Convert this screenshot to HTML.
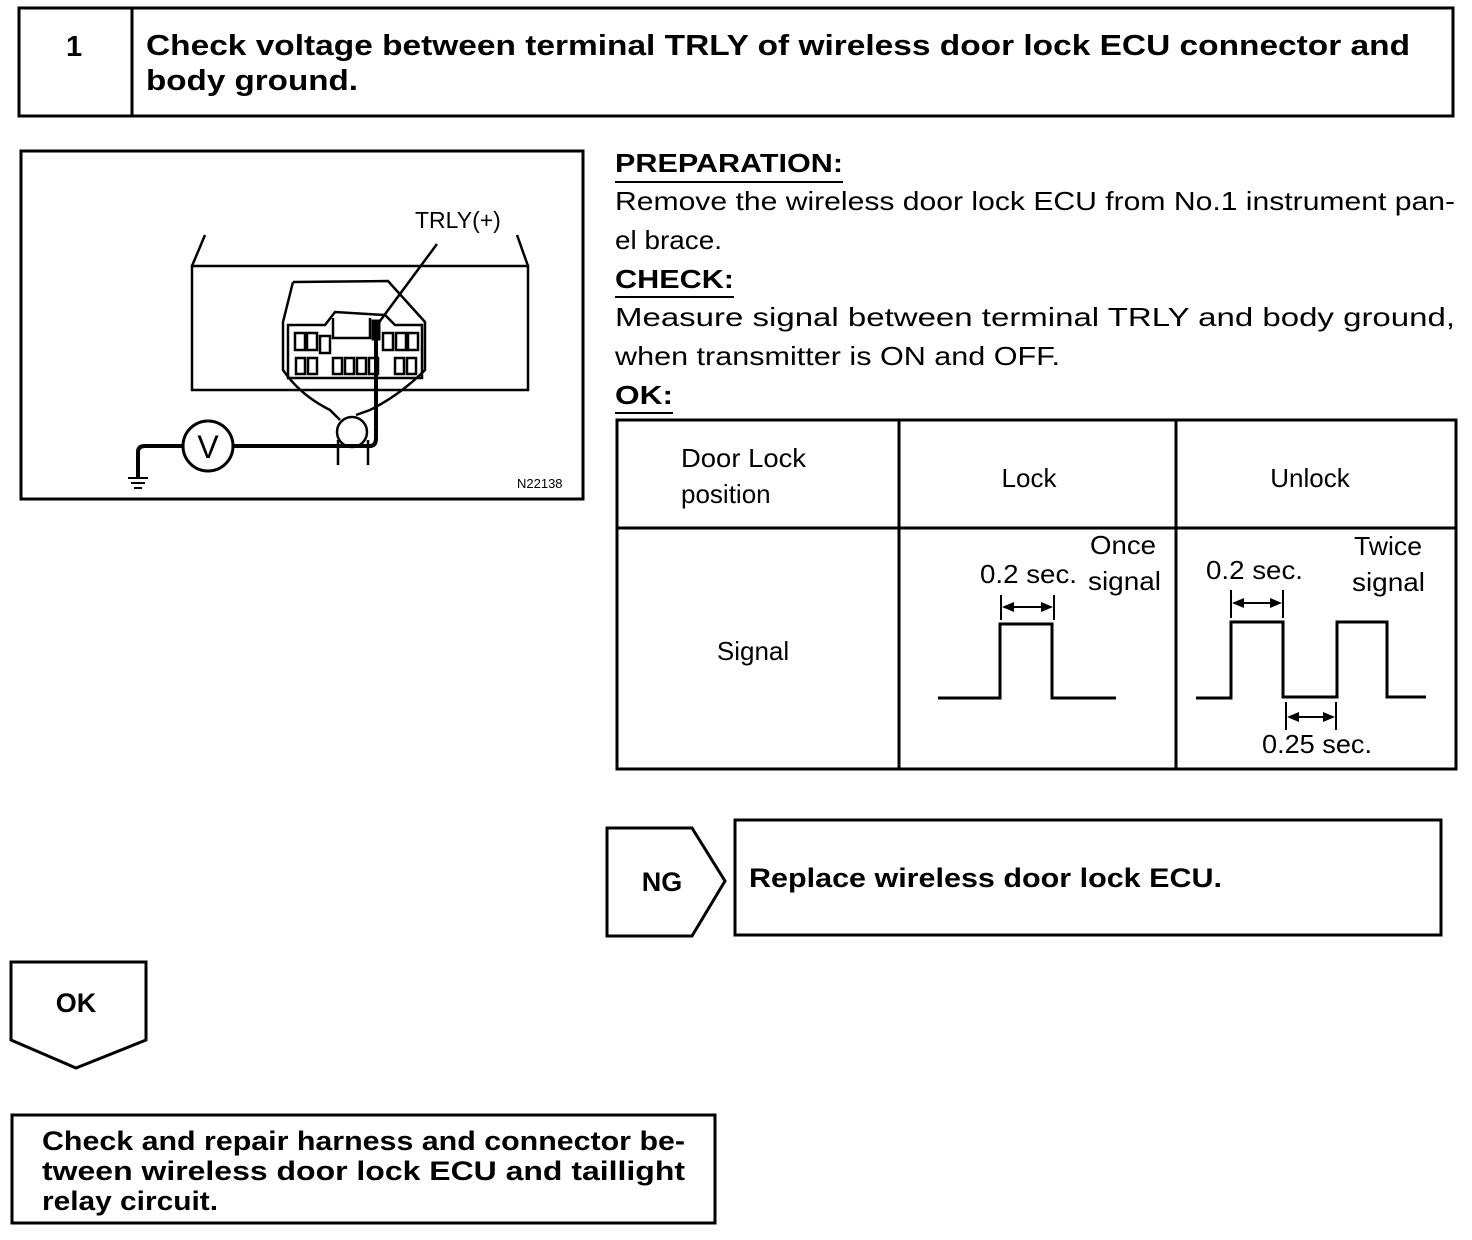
<!DOCTYPE html>
<html><head><meta charset="utf-8"><style>html,body{margin:0;padding:0;background:#fff}svg{display:block}</style></head>
<body>
<svg width="1472" height="1240" viewBox="0 0 1472 1240" xmlns="http://www.w3.org/2000/svg" font-family="Liberation Sans, sans-serif" fill="none" stroke="#000">
<rect x="19" y="8" width="1434" height="108" stroke-width="3"/>
<line x1="132" y1="8" x2="132" y2="116" stroke-width="3"/>
<g fill="#000" stroke="none" font-weight="bold" font-size="29">
<text x="66" y="56">1</text>
<text x="146" y="55" textLength="1264" lengthAdjust="spacingAndGlyphs">Check voltage between terminal TRLY of wireless door lock ECU connector and</text>
<text x="146" y="90" textLength="212" lengthAdjust="spacingAndGlyphs">body ground.</text>
</g>
<rect x="21" y="151" width="562" height="348" stroke-width="3"/>
<g stroke-width="2.5">
<rect x="192" y="266" width="336" height="124"/>
<line x1="205" y1="235" x2="192" y2="266"/>
<line x1="517" y1="235" x2="528" y2="266"/>
<path d="M293 282 L388 281 L425 322 L425 370 Q400 395 370 410 L356 415 M293 282 L283 322 L283 370 Q300 395 330 410 L340 420" />
<path d="M288 325 L288 378 L422 378 L422 325 L395 325 L385 315 L335 312 L325 325 Z"/>
<rect x="295" y="333" width="10" height="17"/><rect x="307" y="333" width="10" height="17"/><rect x="320" y="336" width="10" height="17"/>
<rect x="383" y="333" width="10" height="17"/><rect x="396" y="333" width="10" height="17"/><rect x="408" y="333" width="10" height="17"/>
<rect x="296" y="358" width="9" height="16"/><rect x="308" y="358" width="9" height="16"/>
<rect x="333" y="358" width="9" height="16"/><rect x="345" y="358" width="9" height="16"/><rect x="357" y="358" width="9" height="16"/><rect x="369" y="358" width="9" height="16"/>
<rect x="395" y="358" width="9" height="16"/><rect x="407" y="358" width="9" height="16"/>
<path d="M333 318 L333 338 L370 338 L370 318" />
<circle cx="352" cy="432" r="15"/>
<line x1="338" y1="440" x2="338" y2="465"/><line x1="368" y1="440" x2="368" y2="465"/>
<line x1="437" y1="244" x2="377" y2="325"/>
</g>
<path d="M138 478 L138 452 Q138 446 145 446 L183 446 M233 446 L370 446 Q376 446 376 438 L376 325" stroke-width="4"/>
<rect x="372" y="320" width="8" height="20" fill="#000"/>
<circle cx="208" cy="446" r="25" stroke-width="3"/>
<g fill="#000" stroke="none">
<text x="208" y="458" font-size="32" text-anchor="middle">V</text>
<text x="415" y="228" font-size="23">TRLY(+)</text>
<text x="517" y="488" font-size="13">N22138</text>
</g>
<g stroke-width="2"><line x1="128" y1="478" x2="148" y2="478"/><line x1="131" y1="483" x2="145" y2="483"/><line x1="134" y1="488" x2="142" y2="488"/></g>
<g fill="#000" stroke="none" font-size="26">
<text x="615" y="172" font-weight="bold" textLength="228" lengthAdjust="spacingAndGlyphs">PREPARATION:</text>
<text x="615" y="210" textLength="840" lengthAdjust="spacingAndGlyphs">Remove the wireless door lock ECU from No.1 instrument pan-</text>
<text x="615" y="249" textLength="107" lengthAdjust="spacingAndGlyphs">el brace.</text>
<text x="615" y="288" font-weight="bold" textLength="119" lengthAdjust="spacingAndGlyphs">CHECK:</text>
<text x="615" y="326" textLength="840" lengthAdjust="spacingAndGlyphs">Measure signal between terminal TRLY and body ground,</text>
<text x="615" y="365" textLength="445" lengthAdjust="spacingAndGlyphs">when transmitter is ON and OFF.</text>
<text x="615" y="404" font-weight="bold" textLength="58" lengthAdjust="spacingAndGlyphs">OK:</text>
</g>
<g stroke-width="2"><line x1="615" y1="182" x2="843" y2="182"/><line x1="615" y1="297" x2="734" y2="297"/><line x1="615" y1="413" x2="673" y2="413"/></g>
<rect x="617" y="420" width="839" height="349" stroke-width="3"/>
<line x1="617" y1="528" x2="1456" y2="528" stroke-width="3"/>
<line x1="899" y1="420" x2="899" y2="769" stroke-width="3"/>
<line x1="1176" y1="420" x2="1176" y2="769" stroke-width="3"/>
<g fill="#000" stroke="none" font-size="26">
<text x="681" y="467" textLength="125" lengthAdjust="spacingAndGlyphs">Door Lock</text>
<text x="681" y="503">position</text>
<text x="1029" y="487" text-anchor="middle">Lock</text>
<text x="1310" y="487" text-anchor="middle">Unlock</text>
<text x="753" y="660" text-anchor="middle">Signal</text>
<text x="980" y="583" textLength="97" lengthAdjust="spacingAndGlyphs">0.2 sec.</text>
<text x="1090" y="554" textLength="66" lengthAdjust="spacingAndGlyphs">Once</text>
<text x="1088" y="590" textLength="73" lengthAdjust="spacingAndGlyphs">signal</text>
<text x="1206" y="579" textLength="97" lengthAdjust="spacingAndGlyphs">0.2 sec.</text>
<text x="1354" y="555" textLength="68" lengthAdjust="spacingAndGlyphs">Twice</text>
<text x="1352" y="591" textLength="73" lengthAdjust="spacingAndGlyphs">signal</text>
<text x="1262" y="753" textLength="110" lengthAdjust="spacingAndGlyphs">0.25 sec.</text>
</g>
<g stroke-width="3">
<path d="M938 698 L1000 698 L1000 624 L1052 624 L1052 698 L1116 698"/>
<path d="M1196 698 L1231 698 L1231 622 L1283 622 L1283 697 L1337 697 L1337 622 L1387 622 L1387 697 L1426 697"/>
</g>
<g stroke-width="2">
<line x1="1001" y1="595" x2="1001" y2="620"/><line x1="1054" y1="595" x2="1054" y2="620"/><line x1="1004" y1="607" x2="1051" y2="607"/>
<line x1="1231" y1="590" x2="1231" y2="618"/><line x1="1283" y1="590" x2="1283" y2="618"/><line x1="1234" y1="603" x2="1280" y2="603"/>
<line x1="1286" y1="702" x2="1286" y2="730"/><line x1="1336" y1="702" x2="1336" y2="730"/><line x1="1289" y1="717" x2="1333" y2="717"/>
</g>
<g fill="#000" stroke="none">
<path d="M1002 607 l12 -5 v10z"/><path d="M1053 607 l-12 -5 v10z"/>
<path d="M1232 603 l12 -5 v10z"/><path d="M1282 603 l-12 -5 v10z"/>
<path d="M1287 717 l12 -5 v10z"/><path d="M1335 717 l-12 -5 v10z"/>
</g>
<path d="M607 828 L692 828 L725 881 L692 936 L607 936 Z" stroke-width="3"/>
<rect x="735" y="820" width="706" height="115" stroke-width="3"/>
<g fill="#000" stroke="none" font-weight="bold" font-size="27">
<text x="662" y="891" text-anchor="middle">NG</text>
<text x="749" y="887" textLength="473" lengthAdjust="spacingAndGlyphs">Replace wireless door lock ECU.</text>
<text x="76" y="1012" text-anchor="middle">OK</text>
</g>
<path d="M11 962 L146 962 L146 1040 L76 1068 L11 1040 Z" stroke-width="3"/>
<rect x="12" y="1115" width="703" height="108" stroke-width="3"/>
<g fill="#000" stroke="none" font-weight="bold" font-size="27">
<text x="42" y="1150" textLength="643" lengthAdjust="spacingAndGlyphs">Check and repair harness and connector be-</text>
<text x="42" y="1180" textLength="643" lengthAdjust="spacingAndGlyphs">tween wireless door lock ECU and taillight</text>
<text x="42" y="1210" textLength="176" lengthAdjust="spacingAndGlyphs">relay circuit.</text>
</g>
</svg>
</body></html>
